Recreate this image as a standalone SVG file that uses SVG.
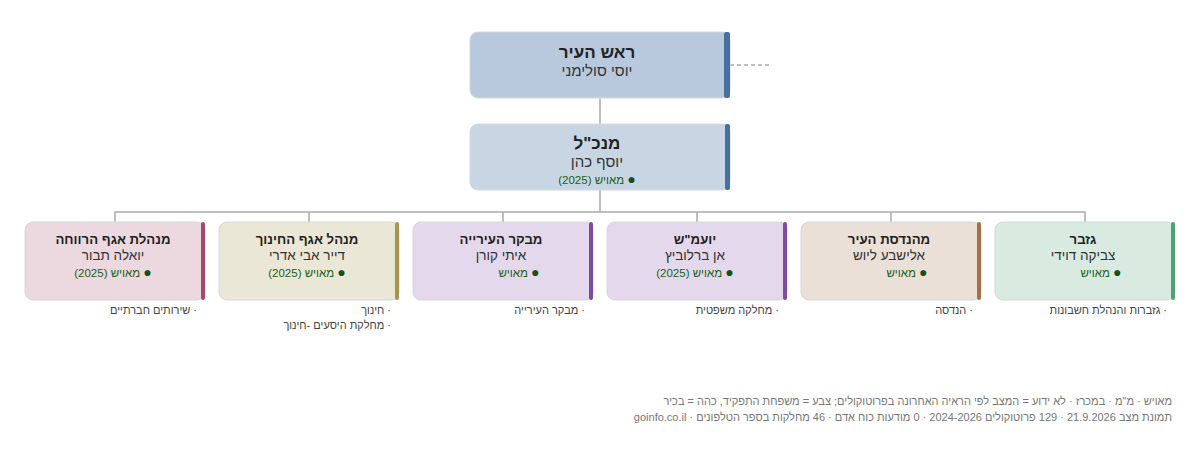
<svg xmlns="http://www.w3.org/2000/svg" width="1200" height="452" viewBox="0 0 1200 452">
<style>
text{font-family:"Liberation Sans",Arial,sans-serif;direction:rtl}
.box{stroke:#d4d8dc;stroke-width:1}
.t{font-weight:bold;font-size:13.2px;fill:#222;text-anchor:middle}
.n{font-size:13.5px;fill:#333;text-anchor:middle}
.s{font-size:11.5px;fill:#1b5e20;text-anchor:middle}
.d{font-size:14px;fill:#14501a}
.b{font-size:11px;fill:#444;text-anchor:start}
.f{font-size:11px;fill:#777;text-anchor:start}
.c{stroke:#aaaaaa;stroke-width:1.5;fill:none}
</style>
<rect width="1200" height="452" fill="#fff"/>
<g id="connectors">
<line class="c" x1="600" y1="98" x2="600" y2="124"/>
<path class="c" d="M600 190V212M115 222V212H1085V222M309 212V222M503 212V222M697 212V222M891 212V222"/>
<line x1="730" y1="65" x2="770" y2="65" stroke="#aaa" stroke-width="1.5" stroke-dasharray="4,3"/>
</g>
<g id="mayor">
<rect class="box" x="470" y="32" width="260" height="66" rx="8" fill="#b8c9de"/>
<rect x="724" y="32" width="6" height="66" rx="2" fill="#47709e"/>
<text x="597" y="58" class="t" style="font-size:17px">ראש העיר</text>
<text x="597" y="76" class="n" style="font-size:15px">יוסי סולימני</text>
</g>
<g id="ceo">
<rect class="box" x="470" y="124" width="260" height="66" rx="8" fill="#c8d6e3"/>
<rect x="725" y="124" width="5" height="66" rx="2" fill="#47709e"/>
<text x="597" y="149" class="t" style="font-size:17px">מנכ"ל</text>
<text x="597" y="167" class="n" style="font-size:15px">יוסף כהן</text>
<text x="597" y="184" class="s"><tspan class="d">●</tspan> מאויש (2025)</text>
</g>
<g id="n1">
<rect class="box" x="25" y="222" width="180" height="78" rx="8" fill="#ecd9df"/>
<rect x="201" y="222" width="4" height="78" rx="2" fill="#a8476a"/>
<text x="113" y="244" class="t">מנהלת אגף הרווחה</text>
<text x="113" y="260" class="n">יואלה תבור</text>
<text x="113" y="277" class="s"><tspan class="d">●</tspan> מאויש (2025)</text>
<text x="197" y="314" class="b">· שירותים חברתיים</text>
</g>
<g id="n2">
<rect class="box" x="219" y="222" width="180" height="78" rx="8" fill="#ebe7d6"/>
<rect x="395" y="222" width="4" height="78" rx="2" fill="#a89548"/>
<text x="307" y="244" class="t">מנהל אגף החינוך</text>
<text x="307" y="260" class="n">דייר אבי אדרי</text>
<text x="307" y="277" class="s"><tspan class="d">●</tspan> מאויש (2025)</text>
<text x="391" y="314" class="b">· חינוך</text>
<text x="391" y="329" class="b">· מחלקת היסעים -חינוך</text>
</g>
<g id="n3">
<rect class="box" x="413" y="222" width="180" height="78" rx="8" fill="#e4d9ec"/>
<rect x="589" y="222" width="4" height="78" rx="2" fill="#7e4ba3"/>
<text x="501" y="244" class="t">מבקר העירייה</text>
<text x="501" y="260" class="n">איתי קורן</text>
<text x="519" y="277" class="s"><tspan class="d">●</tspan> מאויש</text>
<text x="585" y="314" class="b">· מבקר העירייה</text>
</g>
<g id="n4">
<rect class="box" x="607" y="222" width="180" height="78" rx="8" fill="#e4d9ec"/>
<rect x="783" y="222" width="4" height="78" rx="2" fill="#7e4ba3"/>
<text x="695" y="244" class="t">יועמ"ש</text>
<text x="695" y="260" class="n">אן ברלוביץ</text>
<text x="695" y="277" class="s"><tspan class="d">●</tspan> מאויש (2025)</text>
<text x="779" y="314" class="b">· מחלקה משפטית</text>
</g>
<g id="n5">
<rect class="box" x="801" y="222" width="180" height="78" rx="8" fill="#ebe0d7"/>
<rect x="977" y="222" width="4" height="78" rx="2" fill="#a2714a"/>
<text x="889" y="244" class="t">מהנדסת העיר</text>
<text x="889" y="260" class="n">אלישבע ליוש</text>
<text x="907" y="277" class="s"><tspan class="d">●</tspan> מאויש</text>
<text x="973" y="314" class="b">· הנדסה</text>
</g>
<g id="n6">
<rect class="box" x="995" y="222" width="180" height="78" rx="8" fill="#d9ebe1"/>
<rect x="1171" y="222" width="4" height="78" rx="2" fill="#4ea273"/>
<text x="1083" y="244" class="t">גזבר</text>
<text x="1083" y="260" class="n">צביקה דוידי</text>
<text x="1101" y="277" class="s"><tspan class="d">●</tspan> מאויש</text>
<text x="1167" y="314" class="b">· גזברות והנהלת חשבונות</text>
</g>
<g id="footer">
<text x="1172" y="405" class="f">מאויש · מ"מ · במכרז · לא ידוע = המצב לפי הראיה האחרונה בפרוטוקולים; צבע = משפחת התפקיד, כהה = בכיר</text>
<text x="1172" y="421" class="f">תמונת מצב 21.9.2026 · 129 פרוטוקולים 2024-2026 · 0 מודעות כוח אדם · 46 מחלקות בספר הטלפונים · goinfo.co.il</text>
</g>
</svg>
